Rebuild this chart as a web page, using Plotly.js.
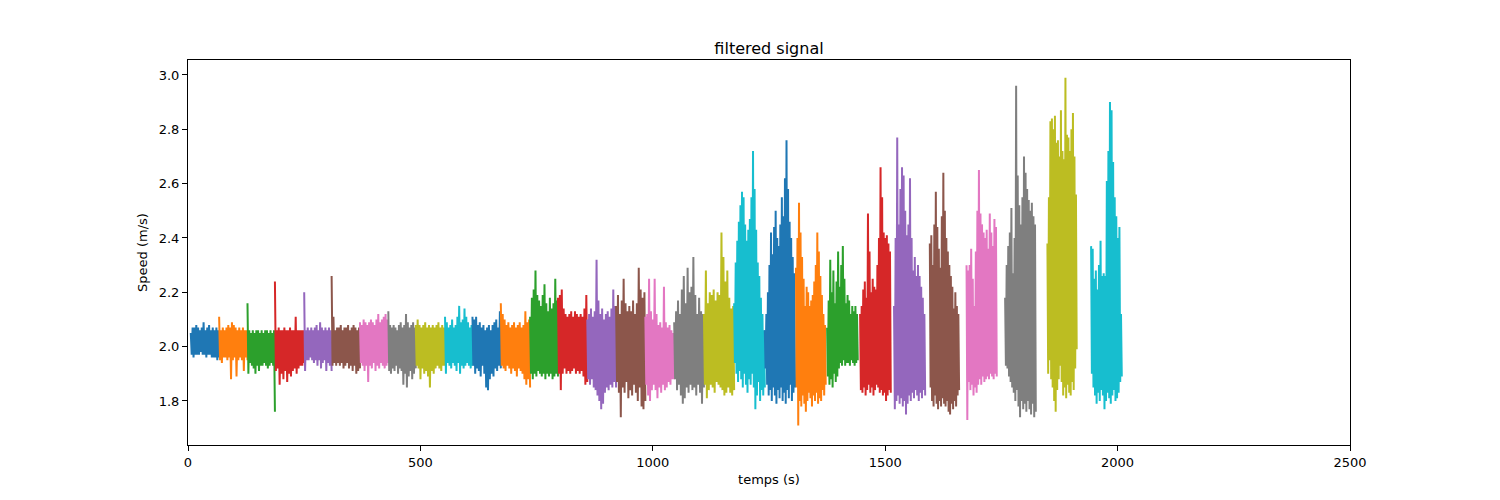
<!DOCTYPE html>
<html>
<head>
<meta charset="utf-8">
<script src="https://cdn.plot.ly/plotly-3.0.1.min.js"></script>
<style>
    body { margin: 0; background: #fff; }
    #grafico { width: 1500px; height: 500px; }
</style>
</head>
<body>
<div id="grafico"></div>
<script>
// Debut et fin de chaque tronçon (s)
var debutSeg = [6, 67, 128, 187, 250, 309, 370, 431, 490, 553,
                612, 673, 736, 796, 859, 921, 984, 1046, 1110, 1175,
                1241, 1308, 1375, 1446, 1519, 1596, 1675, 1758, 1849, 1943];
var finSeg = [67, 128, 187, 250, 309, 370, 431, 490, 553, 612,
              673, 736, 796, 859, 921, 984, 1046, 1110, 1175, 1241,
              1306, 1372, 1441, 1512, 1586, 1659, 1740, 1824, 1912, 2009];

// Pics hauts de la vitesse filtree (m/s), par tronçon
var picsHauts = [
    [2.05,2.07,2.07,2.08,2.07,2.06,2.07,2.09,2.06,2.07,2.08,2.06,2.07,2.06,2.07,2.06],
    [2.11,2.06,2.07,2.06,2.07,2.08,2.07,2.09,2.08,2.07,2.06,2.07,2.06,2.07,2.06,2.06],
    [2.16,2.06,2.05,2.06,2.05,2.06,2.06,2.05,2.06,2.05,2.06,2.06,2.05,2.06,2.05,2.06],
    [2.24,2.06,2.07,2.06,2.06,2.07,2.06,2.06,2.07,2.06,2.06,2.11,2.06,2.06,2.06,2.06],
    [2.20,2.06,2.07,2.06,2.07,2.06,2.07,2.08,2.06,2.09,2.07,2.06,2.07,2.06,2.07,2.06],
    [2.26,2.11,2.06,2.07,2.07,2.08,2.06,2.07,2.07,2.08,2.06,2.07,2.08,2.07,2.06,2.07],
    [2.09,2.08,2.10,2.09,2.08,2.09,2.10,2.09,2.08,2.10,2.12,2.09,2.10,2.11,2.12,2.10],
    [2.13,2.08,2.07,2.08,2.07,2.06,2.08,2.09,2.07,2.08,2.12,2.09,2.07,2.08,2.09,2.07],
    [2.08,2.10,2.08,2.07,2.08,2.09,2.07,2.08,2.07,2.08,2.07,2.08,2.09,2.07,2.08,2.07],
    [2.11,2.09,2.07,2.08,2.10,2.07,2.08,2.11,2.15,2.09,2.10,2.14,2.11,2.09,2.07,2.08],
    [2.11,2.10,2.11,2.08,2.09,2.07,2.08,2.06,2.07,2.08,2.06,2.08,2.09,2.10,2.07,2.13],
    [2.16,2.12,2.10,2.08,2.09,2.07,2.08,2.09,2.07,2.08,2.09,2.07,2.08,2.13,2.09,2.10],
    [2.11,2.18,2.21,2.28,2.19,2.17,2.15,2.19,2.23,2.16,2.13,2.18,2.14,2.16,2.25,2.17],
    [2.18,2.19,2.21,2.14,2.12,2.11,2.12,2.13,2.11,2.13,2.12,2.11,2.12,2.11,2.14,2.19],
    [2.10,2.12,2.14,2.11,2.13,2.32,2.17,2.12,2.14,2.10,2.12,2.13,2.11,2.14,2.21,2.15],
    [2.15,2.19,2.12,2.17,2.25,2.16,2.13,2.15,2.13,2.17,2.12,2.16,2.29,2.21,2.18,2.20],
    [2.11,2.12,2.25,2.13,2.10,2.25,2.12,2.08,2.09,2.07,2.22,2.09,2.07,2.08,2.06,2.05],
    [2.09,2.13,2.17,2.12,2.21,2.26,2.16,2.29,2.20,2.22,2.33,2.19,2.12,2.18,2.13,2.12],
    [2.12,2.28,2.16,2.20,2.19,2.21,2.17,2.20,2.19,2.42,2.33,2.24,2.28,2.18,2.14,2.15],
    [2.16,2.31,2.39,2.46,2.52,2.57,2.55,2.45,2.39,2.43,2.47,2.55,2.72,2.58,2.43,2.31,2.26,2.18,2.12,2.06],
    [2.06,2.12,2.20,2.30,2.42,2.34,2.44,2.50,2.40,2.37,2.45,2.55,2.48,2.62,2.76,2.58,2.46,2.40,2.33,2.27],
    [2.29,2.40,2.53,2.42,2.33,2.25,2.15,2.22,2.20,2.15,2.17,2.19,2.24,2.30,2.42,2.35,2.26,2.19,2.12,2.08],
    [2.07,2.17,2.32,2.20,2.28,2.16,2.24,2.35,2.22,2.30,2.37,2.25,2.16,2.19,2.17,2.12,2.15,2.13,2.15,2.12],
    [2.12,2.15,2.21,2.24,2.18,2.49,2.35,2.20,2.25,2.22,2.21,2.30,2.40,2.66,2.55,2.42,2.40,2.41,2.38,2.35],
    [2.15,2.40,2.77,2.45,2.58,2.66,2.63,2.50,2.41,2.45,2.62,2.40,2.28,2.33,2.26,2.30,2.26,2.22,2.18,2.12],
    [2.38,2.41,2.30,2.45,2.57,2.44,2.36,2.29,2.48,2.64,2.50,2.40,2.35,2.30,2.26,2.22,2.14,2.20,2.15,2.12],
    [2.30,2.28,2.30,2.36,2.25,2.15,2.35,2.50,2.65,2.49,2.45,2.42,2.40,2.43,2.36,2.49,2.42,2.37,2.47,2.44],
    [2.18,2.30,2.37,2.42,2.51,2.27,2.40,2.96,2.63,2.52,2.45,2.55,2.70,2.64,2.58,2.54,2.50,2.53,2.48,2.45],
    [2.38,2.55,2.83,2.84,2.80,2.85,2.75,2.76,2.70,2.87,2.72,2.69,2.99,2.78,2.77,2.72,2.80,2.86,2.70,2.56],
    [2.37,2.36,2.25,2.28,2.21,2.30,2.39,2.26,2.27,2.26,2.61,2.72,2.90,2.87,2.68,2.55,2.48,2.40,2.44,2.12]
];

// Pics bas de la vitesse filtree (m/s), par tronçon
var picsBas = [
    [1.97,1.96,1.97,1.97,1.97,1.98,1.97,1.97,1.96,1.97,1.97,1.96,1.96,1.96,1.95,1.96],
    [1.95,1.94,1.96,1.96,1.95,1.96,1.88,1.95,1.96,1.89,1.95,1.96,1.95,1.91,1.96,1.95],
    [1.90,1.94,1.93,1.92,1.90,1.93,1.91,1.93,1.93,1.94,1.93,1.92,1.93,1.94,1.93,1.76],
    [1.91,1.92,1.86,1.90,1.88,1.91,1.87,1.90,1.89,1.91,1.92,1.90,1.92,1.93,1.93,1.94],
    [1.91,1.95,1.95,1.96,1.95,1.94,1.95,1.93,1.95,1.92,1.94,1.95,1.91,1.94,1.93,1.91],
    [1.93,1.94,1.93,1.94,1.93,1.94,1.92,1.93,1.94,1.92,1.93,1.91,1.93,1.90,1.91,1.92],
    [1.94,1.93,1.91,1.93,1.87,1.93,1.92,1.94,1.91,1.93,1.92,1.94,1.93,1.92,1.93,1.94],
    [1.91,1.90,1.92,1.91,1.93,1.90,1.92,1.91,1.86,1.90,1.85,1.89,1.91,1.88,1.90,1.92],
    [1.93,1.92,1.88,1.92,1.90,1.91,1.89,1.85,1.91,1.90,1.92,1.93,1.92,1.91,1.93,1.93],
    [1.90,1.94,1.93,1.92,1.94,1.93,1.91,1.94,1.90,1.93,1.92,1.93,1.94,1.93,1.92,1.93],
    [1.93,1.90,1.92,1.91,1.89,1.93,1.90,1.85,1.84,1.88,1.90,1.89,1.92,1.91,1.93,1.92],
    [1.93,1.92,1.91,1.93,1.92,1.90,1.92,1.91,1.89,1.92,1.91,1.90,1.88,1.86,1.88,1.85],
    [1.90,1.88,1.90,1.89,1.91,1.90,1.89,1.90,1.88,1.90,1.89,1.90,1.88,1.89,1.90,1.89],
    [1.90,1.84,1.90,1.92,1.90,1.91,1.90,1.91,1.92,1.90,1.91,1.90,1.91,1.89,1.86,1.87],
    [1.88,1.86,1.88,1.85,1.84,1.82,1.80,1.77,1.79,1.83,1.85,1.84,1.86,1.85,1.87,1.85],
    [1.87,1.83,1.74,1.85,1.83,1.87,1.81,1.84,1.82,1.86,1.83,1.80,1.85,1.78,1.77,1.80],
    [1.86,1.82,1.80,1.84,1.86,1.84,1.81,1.85,1.83,1.86,1.84,1.85,1.87,1.86,1.88,1.88],
    [1.88,1.84,1.86,1.82,1.79,1.81,1.85,1.83,1.86,1.84,1.85,1.82,1.86,1.83,1.79,1.85],
    [1.86,1.81,1.84,1.86,1.85,1.83,1.87,1.86,1.85,1.84,1.82,1.83,1.85,1.83,1.82,1.84],
    [1.94,1.90,1.87,1.91,1.88,1.85,1.90,1.86,1.83,1.88,1.86,1.90,1.85,1.77,1.82,1.87,1.80,1.84,1.82,1.85],
    [1.92,1.86,1.82,1.84,1.80,1.85,1.82,1.79,1.84,1.81,1.85,1.80,1.83,1.79,1.84,1.81,1.86,1.80,1.83,1.85],
    [1.85,1.71,1.80,1.78,1.82,1.79,1.76,1.80,1.83,1.81,1.78,1.82,1.80,1.83,1.79,1.81,1.80,1.84,1.82,1.86],
    [1.89,1.86,1.88,1.85,1.90,1.87,1.89,1.92,1.94,1.93,1.95,1.93,1.94,1.94,1.93,1.95,1.94,1.93,1.94,1.95],
    [1.84,1.83,1.85,1.82,1.84,1.86,1.83,1.85,1.82,1.84,1.86,1.85,1.83,1.84,1.82,1.83,1.80,1.82,1.84,1.83],
    [1.77,1.80,1.82,1.79,1.81,1.78,1.80,1.75,1.79,1.82,1.80,1.83,1.81,1.84,1.82,1.80,1.83,1.81,1.84,1.82],
    [1.85,1.80,1.78,1.82,1.79,1.77,1.80,1.78,1.81,1.79,1.78,1.80,1.76,1.75,1.79,1.77,1.80,1.78,1.82,1.84],
    [1.73,1.87,1.84,1.86,1.82,1.85,1.83,1.86,1.88,1.86,1.89,1.87,1.88,1.89,1.88,1.90,1.89,1.88,1.90,1.89],
    [1.93,1.92,1.89,1.87,1.85,1.83,1.80,1.84,1.78,1.74,1.80,1.77,1.79,1.76,1.80,1.77,1.75,1.79,1.74,1.76],
    [1.90,1.95,1.88,1.85,1.80,1.76,1.84,1.88,1.93,1.87,1.82,1.85,1.81,1.86,1.83,1.82,1.87,1.84,1.92,1.99],
    [1.90,1.85,1.82,1.79,1.83,1.80,1.84,1.82,1.77,1.80,1.83,1.81,1.79,1.82,1.84,1.80,1.81,1.83,1.87,1.89]
];

// Cycle de couleurs (tab10)
var couleurs = ['#1f77b4', '#ff7f0e', '#2ca02c', '#d62728', '#9467bd',
                '#8c564b', '#e377c2', '#7f7f7f', '#bcbd22', '#17becf'];

var ticksX = [0, 500, 1000, 1500, 2000, 2500];
var ticksY = [1.8, 2.0, 2.2, 2.4, 2.6, 2.8, 3.0];

// Un trace par tronçon: le signal oscille entre pic haut et pic bas
var traces = [];
for (var i = 0; i < debutSeg.length; i++) {
    var hauts = picsHauts[i];
    var bas = picsBas[i];
    var n = hauts.length * 2;
    var pas = (finSeg[i] - debutSeg[i]) / (n - 1);
    var xs = [];
    var ys = [];
    for (var k = 0; k < hauts.length; k++) {
        xs.push(debutSeg[i] + pas * (2 * k));
        ys.push(hauts[k]);
        xs.push(debutSeg[i] + pas * (2 * k + 1));
        ys.push(bas[k]);
    }
    traces.push({
        x: xs,
        y: ys,
        type: 'scatter',
        mode: 'lines',
        line: { color: couleurs[i % 10], width: 2 },
        showlegend: false,
        hoverinfo: 'skip'
    });
}

var layout = {
    width: 1500,
    height: 500,
    paper_bgcolor: '#fff',
    plot_bgcolor: '#fff',
    font: { family: 'DejaVu Sans', size: 13, color: '#000' },
    margin: { l: 188, r: 150, t: 60, b: 55 },
    title: {
        text: 'filtered signal',
        font: { family: 'DejaVu Sans', size: 16, color: '#000' },
        x: 0.5,
        xref: 'paper',
        xanchor: 'center',
        y: 1,
        yref: 'paper',
        yanchor: 'bottom',
        pad: { b: 6 }
    },
    xaxis: {
        range: [0, 2500],
        tickvals: ticksX,
        ticktext: ticksX.map(String),
        ticks: 'outside',
        ticklen: 5,
        tickcolor: '#000',
        showgrid: false,
        zeroline: false,
        showline: true,
        linecolor: '#000',
        linewidth: 1,
        mirror: true,
        title: { text: 'temps (s)', standoff: 6, font: { size: 13 } }
    },
    yaxis: {
        range: [1.638, 3.055],
        tickvals: ticksY,
        ticktext: ticksY.map(function (v) { return v.toFixed(1); }),
        ticks: 'outside',
        ticklen: 5,
        tickcolor: '#000',
        showgrid: false,
        zeroline: false,
        showline: true,
        linecolor: '#000',
        linewidth: 1,
        mirror: true,
        title: { text: 'Speed (m/s)', standoff: 8, font: { size: 13 } }
    }
};

Plotly.newPlot('grafico', traces, layout, { staticPlot: true });
</script>
</body>
</html>
